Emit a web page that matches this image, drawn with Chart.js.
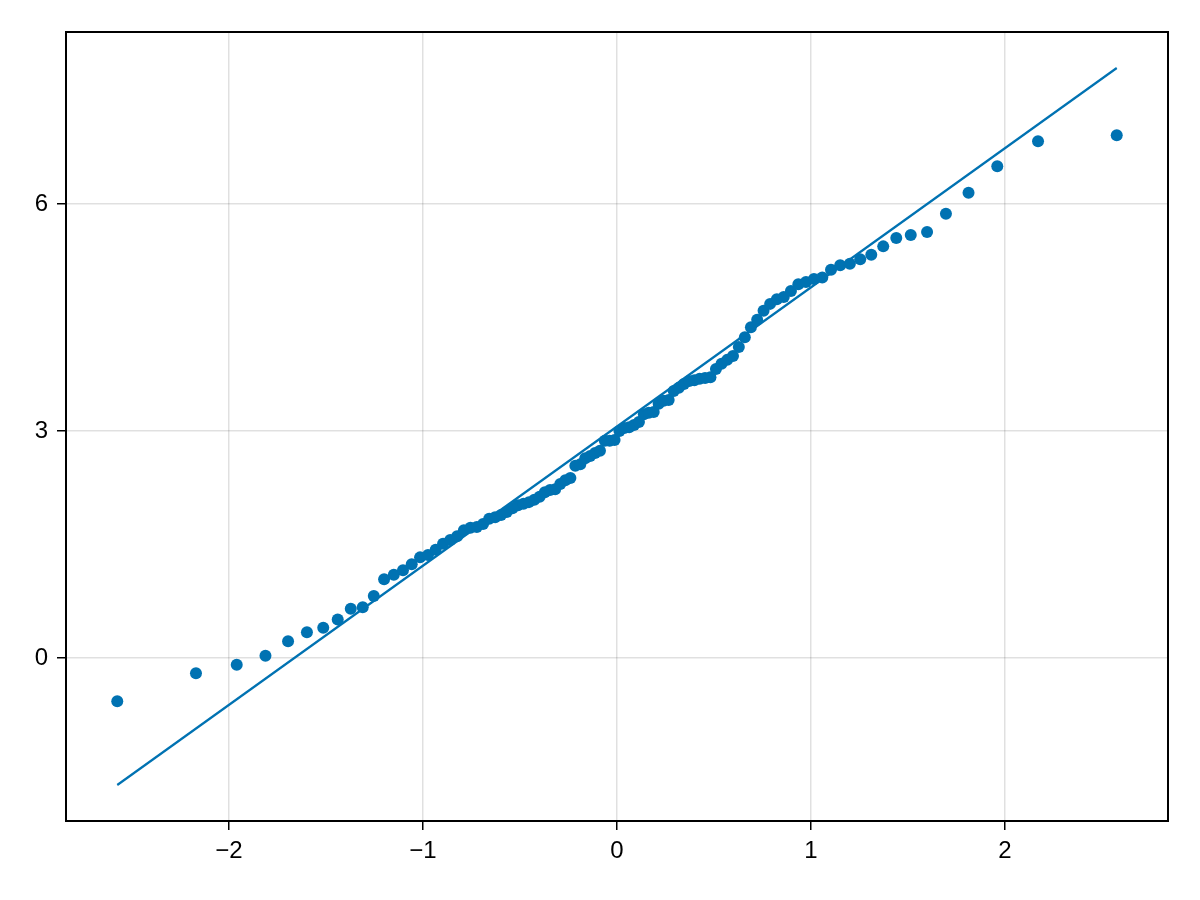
<!DOCTYPE html>
<html>
<head>
<meta charset="utf-8">
<script src="https://cdn.jsdelivr.net/npm/chart.js@4/dist/chart.umd.min.js"></script>
<style>
html,body{margin:0;padding:0;background:#fff;}
#wrap{width:1200px;height:900px;}
</style>
</head>
<body>
<div id="wrap"><canvas id="c" width="1200" height="900"></canvas></div>
<script>
// Theoretical normal quantiles (x) for the 100 sample points
const theoretical = [
-2.5758,-2.1701,-1.9600,-1.8119,-1.6954,-1.5982,-1.5141,-1.4395,-1.3722,-1.3106,
-1.2536,-1.2004,-1.1503,-1.1031,-1.0581,-1.0152,-0.9741,-0.9346,-0.8965,-0.8596,
-0.8239,-0.7892,-0.7554,-0.7225,-0.6903,-0.6588,-0.6280,-0.5978,-0.5681,-0.5388,
-0.5101,-0.4817,-0.4538,-0.4261,-0.3989,-0.3719,-0.3451,-0.3186,-0.2924,-0.2663,
-0.2404,-0.2147,-0.1891,-0.1637,-0.1383,-0.1130,-0.0878,-0.0627,-0.0376,-0.0125,
0.0125,0.0376,0.0627,0.0878,0.1130,0.1383,0.1637,0.1891,0.2147,0.2404,
0.2663,0.2924,0.3186,0.3451,0.3719,0.3989,0.4261,0.4538,0.4817,0.5101,
0.5388,0.5681,0.5978,0.6280,0.6588,0.6903,0.7225,0.7554,0.7892,0.8239,
0.8596,0.8965,0.9346,0.9741,1.0152,1.0581,1.1031,1.1503,1.2004,1.2536,
1.3106,1.3722,1.4395,1.5141,1.5982,1.6954,1.8119,1.9600,2.1701,2.5758
];
// Sorted sample values (y)
const sample = [
-0.57,-0.20,-0.09,0.03,0.22,0.34,0.40,0.51,0.65,0.67,
0.82,1.04,1.10,1.16,1.24,1.33,1.36,1.43,1.51,1.56,
1.61,1.69,1.72,1.73,1.77,1.84,1.86,1.89,1.93,1.98,
2.02,2.04,2.06,2.09,2.13,2.19,2.22,2.23,2.30,2.35,
2.38,2.54,2.56,2.64,2.67,2.71,2.74,2.87,2.87,2.88,
3.00,3.04,3.05,3.08,3.12,3.22,3.24,3.25,3.36,3.40,
3.41,3.53,3.57,3.62,3.66,3.67,3.69,3.70,3.71,3.82,
3.89,3.94,3.99,4.11,4.24,4.37,4.47,4.59,4.68,4.74,
4.77,4.85,4.94,4.97,5.01,5.03,5.13,5.19,5.21,5.27,
5.33,5.44,5.55,5.59,5.63,5.87,6.15,6.50,6.83,6.91
];
// Reference line endpoints
const lineX = [-2.5758, 2.5758];
const lineY = [-1.678, 7.797];
const xTicks = [-2,-1,0,1,2];
const yTicks = [0,3,6];

const blue = 'rgb(0,114,178)';
const minus = v => String(v).replace('-', '\u2212');

const framePlugin = {
  id:'frame',
  afterDraw(chart){
    const a = chart.chartArea, ctx = chart.ctx;
    ctx.save();
    ctx.strokeStyle = '#000';
    ctx.lineWidth = 2;
    ctx.strokeRect(a.left, a.top, a.right - a.left, a.bottom - a.top);
    ctx.restore();
  }
};

new Chart(document.getElementById('c'), {
  data: {
    datasets: [
      {
        type:'line',
        data: lineX.map((x,i)=>({x:x, y:lineY[i]})),
        borderColor: blue, borderWidth: 2.2, pointRadius: 0, fill:false, tension:0
      },
      {
        type:'scatter',
        data: theoretical.map((x,i)=>({x:x, y:sample[i]})),
        backgroundColor: blue, borderWidth: 0, pointRadius: 6, pointHoverRadius: 6
      }
    ]
  },
  options: {
    responsive:false, animation:false,
    layout:{padding:{top:32, right:32, left:0, bottom:0}},
    plugins:{legend:{display:false}, tooltip:{enabled:false}},
    scales:{
      x:{
        type:'linear', min:-2.84, max:2.84,
        afterBuildTicks: s => { s.ticks = xTicks.map(v=>({value:v})); },
        afterFit: s => { s.height = 79; },
        grid:{color:'rgba(0,0,0,0.12)', lineWidth:1.5, tickColor:'#000', tickLength:9, tickWidth:1.5, drawOnChartArea:true},
        border:{display:false},
        ticks:{color:'#000', font:{family:'"Liberation Sans", Arial, sans-serif', size:24}, padding:7, maxRotation:0, callback: v => minus(v)}
      },
      y:{
        type:'linear', min:-2.154, max:8.273,
        afterBuildTicks: s => { s.ticks = yTicks.map(v=>({value:v})); },
        afterFit: s => { s.width = 66; },
        grid:{color:'rgba(0,0,0,0.12)', lineWidth:1.5, tickColor:'#000', tickLength:9, tickWidth:1.5},
        border:{display:false},
        ticks:{color:'#000', font:{family:'"Liberation Sans", Arial, sans-serif', size:24}, padding:9, callback: v => minus(v)}
      }
    }
  },
  plugins:[framePlugin]
});
</script>
</body>
</html>
